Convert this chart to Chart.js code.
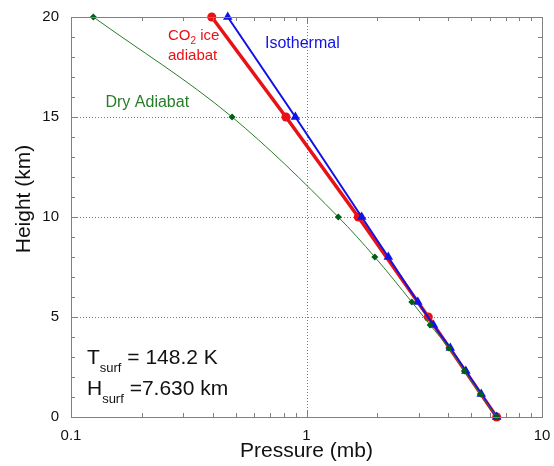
<!DOCTYPE html>
<html>
<head>
<meta charset="utf-8">
<script src="https://cdn.jsdelivr.net/npm/chart.js@4/dist/chart.umd.min.js"></script>
<style>
  html, body { margin: 0; padding: 0; background: #fff; }
  canvas { display: block; }
</style>
</head>
<body>
<canvas id="myChart" width="554" height="466"></canvas>
<script>
// profiles: height (km) against pressure (mb)
var dryHeight   = [0, 1.15, 2.3, 3.45, 4.6, 5.75, 8, 10, 15, 20];
var dryPressure = [6.42, 5.47, 4.68, 4.02, 3.35, 2.80, 1.95, 1.365, 0.483, 0.1244];

var co2Height   = [0, 5, 10, 15, 20];
var co2Pressure = [6.42, 3.29, 1.66, 0.818, 0.396];

var isoHeight   = [0, 1.15, 2.3, 3.45, 4.6, 5.75, 8, 10, 15, 20];
var isoPressure = [6.42, 5.52, 4.75, 4.08, 3.46, 2.97, 2.225, 1.716, 0.897, 0.463];

// axis ticks
var xTicks = [0.1, 0.2, 0.3, 0.4, 0.5, 0.6, 0.7, 0.8, 0.9, 1, 2, 3, 4, 5, 6, 7, 8, 9, 10];
var xMajor = [0.1, 1, 10];
var xLabels = ['0.1', '1', '10'];
var xGrid = [1];
var yTicks = [0, 1, 2, 3, 4, 5, 6, 7, 8, 9, 10, 11, 12, 13, 14, 15, 16, 17, 18, 19, 20];
var yMajor = [0, 5, 10, 15, 20];
var yGrid = [5, 10, 15];

var FONT = '"Liberation Sans", Arial, Helvetica, sans-serif';
var RED = 'rgb(232,18,22)';
var BLUE = 'rgb(18,18,228)';
var GREEN = 'rgb(40,125,40)';
var DKGREEN = 'rgb(0,95,20)';

function pts(px, hy) {
    return px.map(function (p, i) { return {x: p, y: hy[i]}; });
}

// text drawn in pieces so subscripts can be smaller and lower
function richText(ctx, parts, x, y) {
    parts.forEach(function (p) {
        ctx.font = p.size + 'px ' + FONT;
        ctx.fillText(p.text, x, y + (p.dy || 0));
        x += ctx.measureText(p.text).width;
    });
}

var labels = [
    {p: 0.2582, h: 18.85, color: RED, parts: [{text: 'CO', size: 15}, {text: '2', size: 10, dy: 4}, {text: ' ice', size: 15}]},
    {p: 0.2582, h: 17.85, color: RED, parts: [{text: 'adiabat', size: 15}]},
    {p: 0.6665, h: 18.44, color: BLUE, parts: [{text: 'Isothermal', size: 16}]},
    {p: 0.1401, h: 15.52, color: GREEN, parts: [{text: 'Dry Adiabat', size: 16}]},
    {p: 0.1169, h: 2.65, color: '#111', parts: [{text: 'T', size: 21}, {text: 'surf', size: 13, dy: 8}, {text: ' = 148.2 K', size: 21}]},
    {p: 0.1169, h: 1.1, color: '#111', parts: [{text: 'H', size: 21}, {text: 'surf', size: 13, dy: 8}, {text: ' =7.630 km', size: 21}]}
];

var framePlugin = {
    id: 'frame',
    beforeDatasetsDraw: function (chart) {
        var ctx = chart.ctx, a = chart.chartArea, x = chart.scales.x, y = chart.scales.y;
        ctx.save();
        ctx.strokeStyle = '#777';
        ctx.lineWidth = 1;
        ctx.setLineDash([1, 2]);
        ctx.beginPath();
        xGrid.forEach(function (v) {
            var px = Math.round(x.getPixelForValue(v)) + 0.5;
            ctx.moveTo(px, a.top); ctx.lineTo(px, a.bottom);
        });
        yGrid.forEach(function (v) {
            var py = Math.round(y.getPixelForValue(v)) + 0.5;
            ctx.moveTo(a.left, py); ctx.lineTo(a.right, py);
        });
        ctx.stroke();
        ctx.restore();
    },
    afterDatasetsDraw: function (chart) {
        var ctx = chart.ctx, a = chart.chartArea, x = chart.scales.x, y = chart.scales.y;
        ctx.save();
        ctx.strokeStyle = '#808080';
        ctx.lineWidth = 1;
        ctx.beginPath();
        xTicks.forEach(function (v) {
            var px = Math.round(x.getPixelForValue(v)) + 0.5;
            var len = xMajor.indexOf(v) >= 0 ? 7 : 4;
            ctx.moveTo(px, a.bottom); ctx.lineTo(px, a.bottom - len);
            ctx.moveTo(px, a.top); ctx.lineTo(px, a.top + len);
        });
        yTicks.forEach(function (v) {
            var py = Math.round(y.getPixelForValue(v)) + 0.5;
            var len = yMajor.indexOf(v) >= 0 ? 7 : 4;
            ctx.moveTo(a.left, py); ctx.lineTo(a.left + len, py);
            ctx.moveTo(a.right, py); ctx.lineTo(a.right - len, py);
        });
        ctx.stroke();
        ctx.strokeRect(Math.round(a.left) + 0.5, Math.round(a.top) + 0.5,
            Math.round(a.right - a.left), Math.round(a.bottom - a.top));

        ctx.textAlign = 'left';
        ctx.textBaseline = 'alphabetic';
        labels.forEach(function (l) {
            ctx.fillStyle = l.color;
            richText(ctx, l.parts, x.getPixelForValue(l.p), y.getPixelForValue(l.h));
        });

        // axis titles
        ctx.fillStyle = '#111';
        ctx.font = '21px ' + FONT;
        ctx.textAlign = 'center';
        ctx.textBaseline = 'alphabetic';
        ctx.fillText('Pressure (mb)', (a.left + a.right) / 2, 457);
        ctx.translate(30, 199);
        ctx.rotate(-Math.PI / 2);
        ctx.fillText('Height (km)', 0, 0);
        ctx.restore();
    }
};

var ctx = document.getElementById('myChart').getContext('2d');
var chart = new Chart(ctx, {
    type: 'line',
    data: {
        datasets: [{
            label: 'Dry Adiabat',
            data: pts(dryPressure, dryHeight),
            borderColor: GREEN,
            borderWidth: 1,
            cubicInterpolationMode: 'monotone',
            pointStyle: 'rectRot',
            pointRadius: 3.5,
            pointBackgroundColor: DKGREEN,
            pointBorderColor: DKGREEN,
            pointBorderWidth: 0,
            order: 1
        }, {
            label: 'Isothermal',
            data: pts(isoPressure, isoHeight),
            borderColor: BLUE,
            borderWidth: 2,
            pointStyle: 'triangle',
            pointRadius: 5.5,
            pointBackgroundColor: BLUE,
            pointBorderColor: BLUE,
            pointBorderWidth: 0,
            order: 2
        }, {
            label: 'CO2 ice adiabat',
            data: pts(co2Pressure, co2Height),
            borderColor: RED,
            borderWidth: 3.5,
            pointStyle: 'circle',
            pointRadius: 4.5,
            pointBackgroundColor: RED,
            pointBorderColor: RED,
            pointBorderWidth: 0,
            order: 3
        }]
    },
    options: {
        responsive: false,
        animation: false,
        clip: false,
        layout: {padding: {left: 0, top: 17, right: 12, bottom: 0}},
        plugins: {legend: {display: false}, tooltip: {enabled: false}},
        scales: {
            x: {
                type: 'logarithmic',
                min: 0.1,
                max: 10,
                afterBuildTicks: function (s) {
                    s.ticks = xTicks.map(function (v) { return {value: v}; });
                },
                afterFit: function (s) { s.height = 49; },
                grid: {display: false},
                border: {display: false},
                ticks: {
                    autoSkip: false,
                    maxRotation: 0,
                    padding: 2,
                    color: '#111',
                    font: {family: FONT, size: 15},
                    callback: function (v) {
                        var i = xMajor.indexOf(v);
                        return i >= 0 ? xLabels[i] : '';
                    }
                }
            },
            y: {
                type: 'linear',
                min: 0,
                max: 20,
                afterBuildTicks: function (s) {
                    s.ticks = yTicks.map(function (v) { return {value: v}; });
                },
                afterFit: function (s) { s.width = 71; },
                grid: {display: false},
                border: {display: false},
                ticks: {
                    autoSkip: false,
                    padding: 4,
                    color: '#111',
                    font: {family: FONT, size: 15},
                    callback: function (v) {
                        return yMajor.indexOf(v) >= 0 ? String(v) : '';
                    }
                }
            }
        }
    },
    plugins: [framePlugin]
});
</script>
</body>
</html>
